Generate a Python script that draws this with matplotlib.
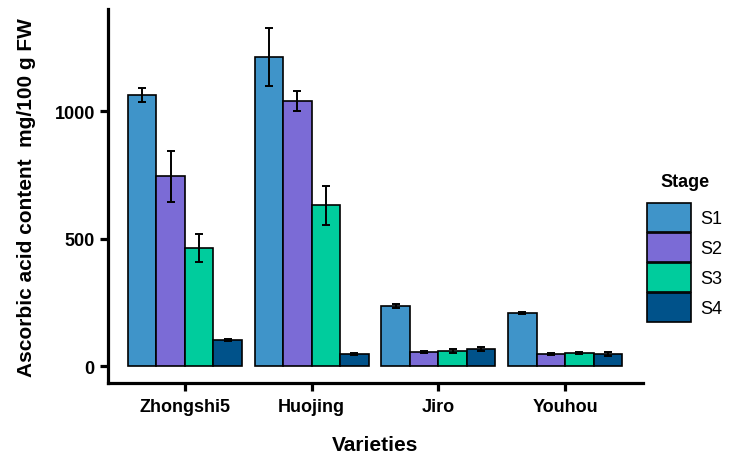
import matplotlib.pyplot as plt
import numpy as np

plt.rcParams['font.family'] = ['Liberation Sans', 'DejaVu Sans']

varieties = ["Zhongshi5", "Huojing", "Jiro", "Youhou"]
stages = ["S1", "S2", "S3", "S4"]
colors = ["#3f94c9", "#7b6bd6", "#00cc9d", "#00528a"]

# mean values per stage (one list per stage, across varieties)
s1 = [1062, 1211, 235, 208]
s2 = [745, 1039, 55, 47]
s3 = [463, 631, 59, 51]
s4 = [102, 47, 67, 47]
# error bars
e1 = [27, 114, 8, 5]
e2 = [100, 39, 4, 3]
e3 = [55, 76, 8, 5]
e4 = [5, 4, 7, 7]

means = [s1, s2, s3, s4]
errs = [e1, e2, e3, e4]

fig = plt.figure(figsize=(7.33, 4.6), dpi=100)
ax = fig.add_axes([0.1473, 0.165, 0.73, 0.813])

x = np.arange(len(varieties))
w = 0.225
for i in range(4):
    ax.bar(x + (i - 1.5) * w, means[i], w, color=colors[i], edgecolor="black",
           linewidth=1.2, label=stages[i], zorder=2)
    ax.errorbar(x + (i - 1.5) * w, means[i], yerr=errs[i], fmt="none",
                ecolor="black", elinewidth=1.4, capsize=3, capthick=1.4, zorder=3)

ax.set_xlim(-0.608, 3.616)
ax.set_ylim(-67, 1400)
ax.set_yticks([0, 500, 1000])
ax.set_xticks(x)
ax.set_xticklabels(varieties)

for s in ["top", "right"]:
    ax.spines[s].set_visible(False)
for s in ["left", "bottom"]:
    ax.spines[s].set_linewidth(2.3)
ax.tick_params(axis="both", width=2.3, length=6, labelsize=13)
ax.tick_params(axis="x", pad=5)
for lab in ax.get_xticklabels() + ax.get_yticklabels():
    lab.set_fontweight("bold")

ax.set_ylabel("Ascorbic acid content  mg/100 g FW", fontsize=15, fontweight="bold", labelpad=13)
ax.set_xlabel("Varieties", fontsize=15, fontweight="bold", labelpad=14)

leg = fig.legend(title="Stage", loc="upper left", bbox_to_anchor=(0.871, 0.641),
                 frameon=False, fontsize=13, handlelength=2.4, handleheight=2.1,
                 labelspacing=0.06, handletextpad=0.5, borderpad=0,
                 title_fontproperties={"weight": "bold", "size": 13})
leg._legend_box.sep = 9

plt.savefig("out.png", dpi=100)
